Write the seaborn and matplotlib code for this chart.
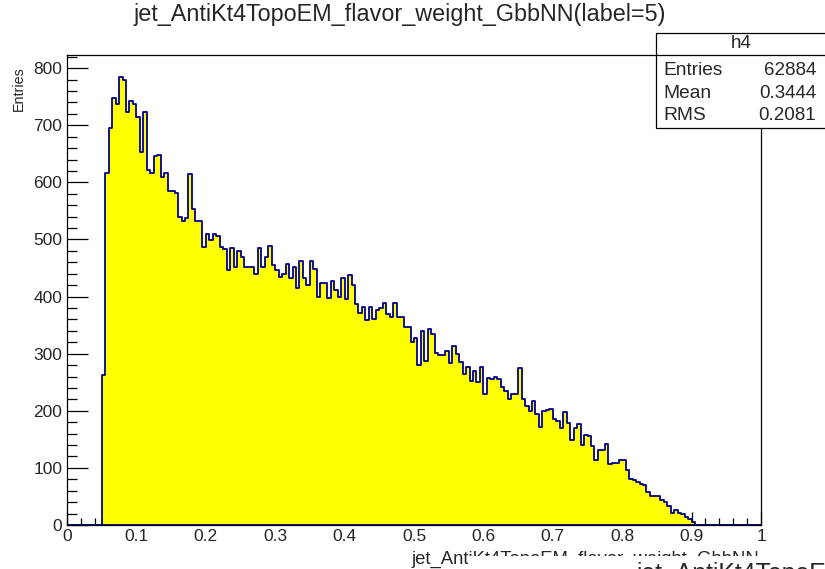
import numpy as np
import pandas as pd
import seaborn as sns
import matplotlib
matplotlib.use("Agg")
import matplotlib.pyplot as plt
from matplotlib.patches import Rectangle
from matplotlib.ticker import MultipleLocator, FuncFormatter

# Histogram h4: 200 bins over [0, 1]; only bins 10..180 are filled
n_bins = 200
x_min, x_max = 0.0, 1.0
first_bin = 10
counts = [
    263, 616, 695, 747, 738, 784, 779, 723, 743, 737,
    714, 653, 724, 622, 616, 646, 648, 610, 616, 584,
    584, 581, 540, 533, 538, 614, 553, 533, 533, 487,
    509, 499, 509, 506, 487, 483, 447, 485, 452, 479,
    470, 451, 452, 452, 440, 485, 452, 469, 489, 455,
    447, 435, 440, 457, 433, 452, 415, 463, 433, 420,
    463, 448, 400, 423, 424, 398, 428, 411, 400, 433,
    396, 437, 420, 387, 372, 381, 359, 381, 361, 376,
    380, 388, 370, 365, 388, 364, 365, 346, 347, 321,
    328, 280, 339, 287, 343, 335, 301, 298, 298, 304,
    284, 314, 299, 285, 264, 276, 252, 270, 250, 277,
    230, 257, 256, 260, 256, 242, 234, 221, 229, 229,
    275, 220, 208, 200, 218, 195, 171, 199, 201, 203,
    185, 182, 169, 197, 179, 149, 169, 177, 140, 158,
    155, 138, 114, 131, 131, 142, 106, 108, 108, 114,
    114, 96, 81, 79, 75, 72, 70, 57, 50, 51,
    50, 43, 40, 33, 21, 26, 21, 19, 14, 10,
    5,
]

hist_name = "h4"
stat_labels = ["Entries", "Mean", "RMS"]
stat_values = ["62884", "0.3444", "0.2081"]
title = "jet_AntiKt4TopoEM_flavor_weight_GbbNN(label=5)"
x_title = "jet_AntiKt4TopoEM_flavor_weight_GbbNN"
y_title = "Entries"

edges = np.linspace(x_min, x_max, n_bins + 1).tolist()
width = (x_max - x_min) / n_bins
centers = x_min + width * (np.arange(first_bin, first_bin + len(counts)) + 0.5)
df = pd.DataFrame({"x": centers, "w": counts})

sns.set_theme(style="white")
plt.rcParams["font.family"] = ["Liberation Sans", "DejaVu Sans"]

W, H = 825, 569
fig = plt.figure(figsize=(W / 100, H / 100), dpi=100)
fig.patch.set_facecolor("white")


def fx(px):
    return px / W


def fy(py):
    return 1 - py / H


ax = fig.add_axes([fx(67), fy(525), fx(761) - fx(67), fy(55) - fy(525)])
sns.histplot(data=df, x="x", weights="w", bins=edges, element="step",
             fill=True, color="#ffff00", alpha=1.0, edgecolor="#00008f",
             linewidth=1.3, ax=ax)

ax.set_xlim(x_min, x_max)
ax.set_ylim(0, 823)
ax.set_xlabel("")
ax.set_ylabel("")

ax.xaxis.set_major_locator(MultipleLocator(0.1))
ax.xaxis.set_minor_locator(MultipleLocator(0.02))
ax.yaxis.set_major_locator(MultipleLocator(100))
ax.yaxis.set_minor_locator(MultipleLocator(20))
ax.xaxis.set_major_formatter(FuncFormatter(lambda v, p: f"{v:g}"))
ax.yaxis.set_major_formatter(FuncFormatter(lambda v, p: f"{v:g}"))

ax.tick_params(axis="x", which="major", direction="in", length=9.7, width=0.9,
               color="black", labelsize=12.5, pad=3, bottom=True, top=False)
ax.tick_params(axis="x", which="minor", direction="in", length=4.9, width=0.9,
               color="black", bottom=True, top=False)
ax.tick_params(axis="y", which="major", direction="in", length=15, width=0.9,
               color="black", labelsize=12.5, pad=3.5, left=True, right=False)
ax.tick_params(axis="y", which="minor", direction="in", length=7.5, width=0.9,
               color="black", left=True, right=False)
for s in ax.spines.values():
    s.set_color("black")
    s.set_linewidth(0.9)

# Title
fig.text(fx(400), fy(15), title, ha="center", va="center", fontsize=16.8)

# Axis titles
fig.text(fx(19), fy(66), y_title, ha="center", va="top", rotation=90,
         fontsize=10.3)
fig.text(fx(759), fy(564), x_title, ha="right", va="baseline", fontsize=13.3)

# Overlapping caption strip at the bottom right
fig.add_artist(Rectangle((fx(468), 0), fx(830) - fx(468), fy(556),
                         transform=fig.transFigure, facecolor="white",
                         edgecolor="none", zorder=6))
fig.text(fx(637), fy(581), x_title, ha="left", va="baseline", fontsize=17.8,
         zorder=7)

# Statistics box
box_l, box_t, box_b = 656, 33, 128
fig.add_artist(Rectangle((fx(box_l), fy(box_b)), fx(830) - fx(box_l),
                         fy(box_t) - fy(box_b), transform=fig.transFigure,
                         facecolor="white", edgecolor="black", linewidth=0.9,
                         zorder=6))
fig.add_artist(plt.Line2D([fx(box_l), fx(830)], [fy(55), fy(55)],
                          transform=fig.transFigure, color="black",
                          linewidth=0.9, zorder=7))
fig.text(fx(741), fy(44), hist_name, ha="center", va="center", fontsize=13.5,
         zorder=8)
for i, (lab, val) in enumerate(zip(stat_labels, stat_values)):
    yy = fy(70.5 + i * 22.5)
    fig.text(fx(663), yy, lab, ha="left", va="center", fontsize=13.8, zorder=8)
    fig.text(fx(816), yy, val, ha="right", va="center", fontsize=13.5, zorder=8)

fig.savefig("out.png", dpi=100)
